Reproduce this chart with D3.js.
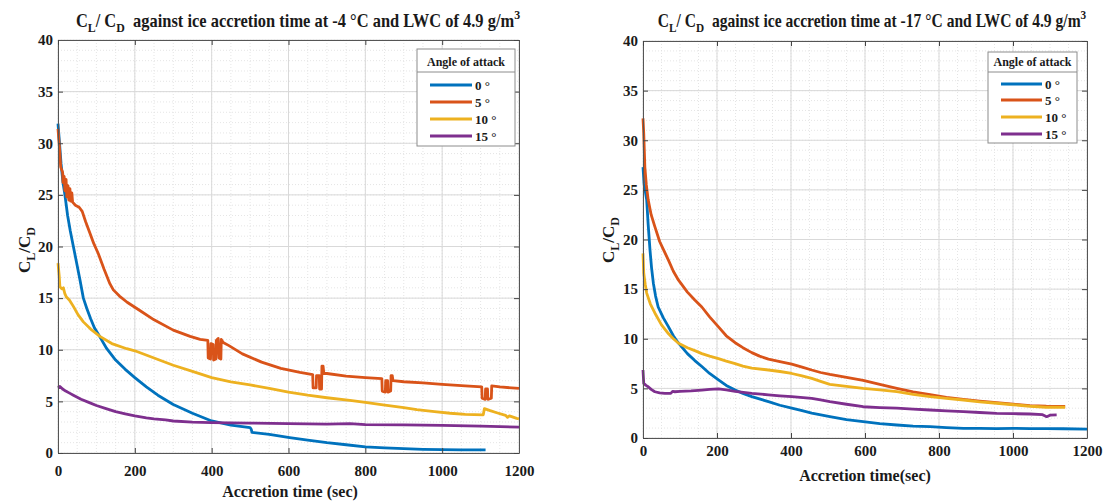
<!DOCTYPE html>
<html>
<head>
<meta charset="utf-8">
<script src="https://cdn.jsdelivr.net/npm/d3@7"></script>
<style>
  body { margin: 0; background: #fff; }
  text { font-family: "Liberation Serif", "Times New Roman", serif; font-weight: bold; fill: #1a1a1a; }
</style>
</head>
<body>
<script>
// tick labels and legend entries
var xTicks = [0, 200, 400, 600, 800, 1000, 1200];
var yTicks = [0, 5, 10, 15, 20, 25, 30, 35, 40];
var angleLabels = ["0 °", "5 °", "10 °", "15 °"];
var colors = ["#0072BD", "#D95319", "#EDB120", "#7E2F8E"];

// -4 °C, [time (s), CL/CD]
var leftBlue = [[0,31.9],[4,30],[8,28],[13,26.2],[18,25],[25,23],[32,21.5],[40,20],[48,18.5],[57,16.8],[66,15],[75,14],[85,13],[95,12.1],[109,11.25],[127,10.1],[150,9.0],[175,8.1],[200,7.3],[230,6.4],[260,5.6],[300,4.7],[350,3.85],[400,3.1],[450,2.7],[500,2.45],[503,2.3],[505,2.0],[550,1.8],[603,1.5],[650,1.25],[700,1.0],[750,0.8],[800,0.6],[850,0.5],[900,0.42],[950,0.36],[1000,0.33],[1050,0.3],[1113,0.3]];
var leftOrange = [[0,31.4],[4,29.5],[7,27.7],[12,27.2],[13,26.2],[16,26.8],[18,25.4],[21,26.5],[23,24.8],[26,25.9],[28,24.5],[31,25.6],[33,24.4],[36,25.2],[38,24.3],[45,24.0],[55,23.8],[63,23.4],[72,22.4],[82,21.4],[93,20.3],[105,19.3],[120,17.8],[135,16.4],[144,15.8],[160,15.2],[180,14.6],[213,13.8],[250,12.9],[300,11.9],[344,11.3],[370,11.0],[390,10.9],[391,9.2],[397,9.1],[398,10.6],[404,10.5],[405,9.0],[411,9.1],[412,10.9],[417,11.1],[419,9.2],[424,9.1],[425,11.0],[430,10.7],[445,10.4],[480,9.6],[530,8.8],[580,8.2],[630,7.8],[663,7.6],[664,6.3],[672,6.3],[673,7.5],[680,7.5],[681,6.2],[686,6.2],[687,8.4],[690,8.4],[692,7.7],[700,7.7],[750,7.45],[800,7.3],[843,7.2],[844,6.0],[852,5.9],[853,7.0],[858,7.0],[859,5.9],[866,6.0],[867,7.5],[870,7.5],[872,7.0],[900,6.9],[950,6.8],[1000,6.65],[1060,6.5],[1103,6.4],[1104,5.3],[1112,5.2],[1113,6.2],[1118,6.2],[1119,5.2],[1128,5.3],[1129,6.5],[1150,6.4],[1200,6.25]];
var leftYellow = [[0,18.4],[3,17.2],[5,16.1],[10,15.9],[14,16.0],[18,15.4],[22,15.1],[30,14.8],[40,14.2],[52,13.4],[66,12.7],[85,12.0],[109,11.3],[140,10.6],[179,10.1],[200,9.9],[250,9.2],[300,8.5],[350,7.9],[400,7.3],[450,6.9],[500,6.6],[550,6.25],[600,5.9],[650,5.6],[700,5.35],[760,5.1],[800,4.9],[846,4.65],[900,4.4],[934,4.2],[980,4.0],[1021,3.85],[1060,3.75],[1107,3.7],[1110,4.3],[1125,4.1],[1142,3.9],[1165,3.65],[1170,3.45],[1175,3.6],[1194,3.35],[1200,3.3]];
var leftPurple = [[0,6.3],[5,6.45],[12,6.2],[20,6.0],[30,5.8],[40,5.6],[60,5.2],[80,4.9],[100,4.6],[125,4.3],[150,4.0],[175,3.8],[200,3.6],[230,3.4],[250,3.3],[280,3.2],[300,3.1],[350,3.0],[400,2.95],[450,2.92],[500,2.9],[600,2.85],[700,2.8],[760,2.85],[800,2.75],[900,2.72],[1000,2.68],[1100,2.6],[1200,2.5]];

// -17 °C, [time (s), CL/CD]
var rightBlue = [[0,27.3],[3,25.6],[10,24],[14,21.5],[19,18.9],[23,17.2],[28,15.6],[34,14.3],[41,13.2],[55,12.1],[69,11.2],[82,10.3],[96,9.55],[120,8.5],[140,7.8],[159,7.2],[180,6.5],[204,5.85],[225,5.3],[249,4.83],[270,4.5],[294,4.17],[339,3.66],[370,3.3],[402,3.0],[430,2.75],[456,2.5],[505,2.15],[550,1.85],[595,1.64],[640,1.45],[686,1.31],[730,1.2],[776,1.14],[820,1.05],[866,0.97],[910,0.97],[956,0.95],[1000,0.97],[1046,0.95],[1090,0.95],[1136,0.93],[1200,0.9]];
var rightOrange = [[0,32.2],[2,30.7],[5,27.3],[9,25.5],[14,24],[22,22.5],[32,21.3],[45,19.8],[55,19],[69,17.9],[82,16.8],[96,15.9],[120,14.7],[140,13.9],[159,13.2],[180,12.2],[204,11.2],[225,10.3],[249,9.6],[270,9.1],[294,8.6],[315,8.25],[339,7.95],[370,7.7],[402,7.45],[430,7.15],[456,6.85],[480,6.6],[505,6.4],[550,6.1],[595,5.8],[640,5.4],[686,5.0],[730,4.65],[776,4.36],[820,4.1],[866,3.9],[910,3.72],[956,3.56],[1001,3.4],[1046,3.27],[1090,3.2],[1141,3.18]];
var rightYellow = [[0,18.6],[2,16.6],[6,15.5],[10,14.6],[20,13.5],[32,12.6],[50,11.4],[69,10.5],[82,10.0],[96,9.55],[120,9.1],[140,8.8],[159,8.5],[180,8.25],[204,8.0],[225,7.75],[249,7.5],[270,7.25],[294,7.05],[339,6.85],[370,6.7],[402,6.5],[430,6.25],[456,6.0],[480,5.7],[505,5.4],[550,5.2],[595,5.0],[640,4.85],[686,4.67],[730,4.4],[776,4.17],[820,4.0],[866,3.83],[910,3.65],[956,3.5],[1001,3.35],[1046,3.2],[1090,3.1],[1141,3.1]];
var rightPurple = [[0,6.85],[2,5.5],[8,5.3],[14,5.17],[22,4.9],[32,4.66],[45,4.55],[59,4.5],[75,4.5],[80,4.7],[86,4.66],[100,4.7],[130,4.75],[159,4.83],[180,4.9],[204,4.95],[225,4.85],[249,4.7],[294,4.5],[339,4.35],[370,4.25],[402,4.17],[456,4.0],[480,3.85],[505,3.66],[550,3.4],[595,3.15],[640,3.07],[686,3.0],[730,2.9],[776,2.82],[820,2.73],[866,2.65],[910,2.57],[956,2.49],[1000,2.45],[1046,2.42],[1080,2.35],[1091,2.15],[1100,2.3],[1118,2.32]];

var svg = d3.select("body").append("svg")
  .attr("width", 1104)
  .attr("height", 501);

var panels = [
  { left: 58, right: 519, top: 40, bottom: 453, temp: "-4", titleX: 298, titleY: 27, titleW: 445,
    xlabel: "Accretion time (sec)", xlabelX: 290, xlabelY: 497, tickPad: 12, ylabelX: 30, ylabelY: 250,
    series: [leftBlue, leftOrange, leftYellow, leftPurple],
    legend: { x: 417, y: 49, w: 98, h: 97, head: 66, sep: 72, rows: [85, 102, 119, 136], lx1: 430, lx2: 472, tx: 475 } },
  { left: 643, right: 1087, top: 41, bottom: 438, temp: "-17", titleX: 872, titleY: 27, titleW: 429,
    xlabel: "Accretion time(sec)", xlabelX: 865, xlabelY: 481, tickPad: 7, ylabelX: 614, ylabelY: 240,
    series: [rightBlue, rightOrange, rightYellow, rightPurple],
    legend: { x: 988, y: 52, w: 89, h: 91, head: 66, sep: 72, rows: [84, 100, 117, 134], lx1: 1001, lx2: 1042, tx: 1045 } }
];

panels.forEach(drawPanel);

function drawPanel(p) {
  var x = d3.scaleLinear().domain([0, 1200]).range([p.left, p.right]);
  var y = d3.scaleLinear().domain([0, 40]).range([p.bottom, p.top]);
  var g = svg.append("g");

  // minor grid
  g.selectAll(".xminor").data(d3.range(0, 1201, 50)).enter().append("line")
    .attr("x1", d => x(d)).attr("x2", d => x(d))
    .attr("y1", p.top).attr("y2", p.bottom)
    .attr("stroke", "#dedede").attr("stroke-width", 0.8).attr("stroke-dasharray", "1,2");
  g.selectAll(".yminor").data(d3.range(0, 41, 1)).enter().append("line")
    .attr("y1", d => y(d)).attr("y2", d => y(d))
    .attr("x1", p.left).attr("x2", p.right)
    .attr("stroke", "#dedede").attr("stroke-width", 0.8).attr("stroke-dasharray", "1,2");
  // major grid
  g.selectAll(".xmajor").data(xTicks).enter().append("line")
    .attr("x1", d => x(d)).attr("x2", d => x(d))
    .attr("y1", p.top).attr("y2", p.bottom)
    .attr("stroke", "#d9d9d9").attr("stroke-width", 1);
  g.selectAll(".ymajor").data(yTicks).enter().append("line")
    .attr("y1", d => y(d)).attr("y2", d => y(d))
    .attr("x1", p.left).attr("x2", p.right)
    .attr("stroke", "#d9d9d9").attr("stroke-width", 1);

  // curves
  var line = d3.line().x(d => x(d[0])).y(d => y(d[1]));
  p.series.forEach(function(s, i) {
    g.append("path").datum(s)
      .attr("d", line)
      .attr("fill", "none")
      .attr("stroke", colors[i])
      .attr("stroke-width", 2.8)
      .attr("stroke-linejoin", "round");
  });

  // axes, ticks pointing inward on all four sides
  var bottom = g.append("g").attr("transform", `translate(0,${p.bottom})`)
    .call(d3.axisBottom(x).tickValues(xTicks).tickFormat(d3.format("d")).tickSizeInner(-5).tickSizeOuter(0).tickPadding(p.tickPad));
  var leftAx = g.append("g").attr("transform", `translate(${p.left},0)`)
    .call(d3.axisLeft(y).tickValues(yTicks).tickFormat(d3.format("d")).tickSizeInner(-5).tickSizeOuter(0).tickPadding(5));
  var topAx = g.append("g").attr("transform", `translate(0,${p.top})`)
    .call(d3.axisTop(x).tickValues(xTicks).tickSizeInner(-5).tickSizeOuter(0).tickFormat(""));
  var rightAx = g.append("g").attr("transform", `translate(${p.right},0)`)
    .call(d3.axisRight(y).tickValues(yTicks).tickSizeInner(-5).tickSizeOuter(0).tickFormat(""));
  [bottom, leftAx, topAx, rightAx].forEach(function(a) {
    a.selectAll("path").attr("stroke", "#555");
    a.selectAll("line").attr("stroke", "#444");
    a.selectAll("text").style("font-size", "15px").attr("fill", "#1a1a1a")
      .style("font-family", "'Liberation Serif', serif").style("font-weight", "bold");
  });

  // title, squeezed to the reference width
  var tg = svg.append("g");
  var t = tg.append("text")
    .attr("x", 0).attr("y", 0)
    .attr("text-anchor", "middle")
    .style("font-size", "18px");
  t.append("tspan").text("C");
  t.append("tspan").attr("dy", 5).style("font-size", "13px").text("L");
  t.append("tspan").attr("dy", -5).text("/ C");
  t.append("tspan").attr("dy", 5).style("font-size", "13px").text("D");
  t.append("tspan").attr("dy", -5).text("\u00a0 against ice accretion time at " + p.temp + " °C and LWC of 4.9 g/m");
  t.append("tspan").attr("dy", -8).style("font-size", "13px").text("3");
  var bw = t.node().getBBox().width;
  tg.attr("transform", `translate(${p.titleX},${p.titleY}) scale(${p.titleW / bw},1)`);

  // x label
  svg.append("text")
    .attr("x", p.xlabelX).attr("y", p.xlabelY)
    .attr("text-anchor", "middle")
    .style("font-size", "16px")
    .text(p.xlabel);

  // y label
  var yl = svg.append("text")
    .attr("transform", `translate(${p.ylabelX},${p.ylabelY}) rotate(-90)`)
    .attr("text-anchor", "middle")
    .style("font-size", "17px");
  yl.append("tspan").text("C");
  yl.append("tspan").attr("dy", 5).style("font-size", "12px").text("L");
  yl.append("tspan").attr("dy", -5).text("/C");
  yl.append("tspan").attr("dy", 5).style("font-size", "12px").text("D");

  // legend
  var L = p.legend;
  var lg = svg.append("g");
  lg.append("rect")
    .attr("x", L.x).attr("y", L.y).attr("width", L.w).attr("height", L.h)
    .attr("fill", "#fff").attr("stroke", "#8c8c8c").attr("stroke-width", 1);
  lg.append("text")
    .attr("x", L.x + L.w / 2).attr("y", L.head)
    .attr("text-anchor", "middle")
    .style("font-size", "12px")
    .text("Angle of attack");
  lg.append("line")
    .attr("x1", L.x).attr("x2", L.x + L.w)
    .attr("y1", L.sep).attr("y2", L.sep)
    .attr("stroke", "#8c8c8c");
  angleLabels.forEach(function(lab, i) {
    lg.append("line")
      .attr("x1", L.lx1).attr("x2", L.lx2)
      .attr("y1", L.rows[i]).attr("y2", L.rows[i])
      .attr("stroke", colors[i]).attr("stroke-width", 2.8);
    lg.append("text")
      .attr("x", L.tx).attr("y", L.rows[i])
      .attr("dy", "0.35em")
      .style("font-size", "13px")
      .text(lab);
  });
}
</script>
</body>
</html>
